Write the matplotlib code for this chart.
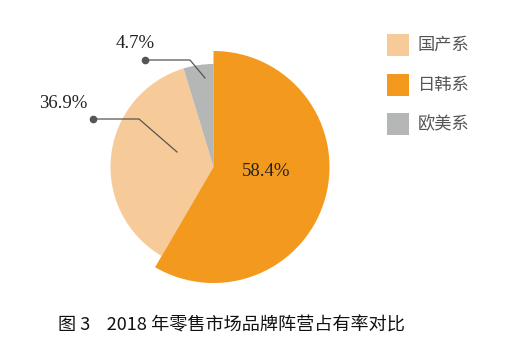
import matplotlib
matplotlib.use("Agg")
import matplotlib.pyplot as plt
from matplotlib.patches import Rectangle

# Data
categories = ["国产系", "日韩系", "欧美系"]
shares = [36.9, 58.4, 4.7]
colors = {"国产系": "#F7CA9A", "日韩系": "#F39A1E", "欧美系": "#B5B6B6"}
pct_labels = ["36.9%", "58.4%", "4.7%"]
caption = "图 3    2018 年零售市场品牌阵营占有率对比"

W, H = 507, 356
fig = plt.figure(figsize=(W / 100, H / 100), dpi=100)
ax = fig.add_axes([0, 0, 1, 1])
ax.set_xlim(0, W)
ax.set_ylim(0, H)
ax.set_aspect("equal")
ax.axis("off")

def Y(y):
    return H - y

# pie order clockwise from top: 日韩系, 国产系, 欧美系
order = [1, 0, 2]
vals = [shares[i] for i in order]
cols = [colors[categories[i]] for i in order]
center = (213.5, Y(167))
big_r, small_r = 116, 103

w_small, _ = ax.pie(vals, colors=cols, startangle=90, counterclock=False,
                    radius=small_r, center=center, frame=True,
                    wedgeprops=dict(linewidth=0))
w_small[0].set_visible(False)
w_big, _ = ax.pie(vals, colors=cols, startangle=90, counterclock=False,
                  radius=big_r, center=center, frame=True,
                  wedgeprops=dict(linewidth=0))
w_big[1].set_visible(False)
w_big[2].set_visible(False)
ax.set_xlim(0, W)
ax.set_ylim(0, H)
ax.axis("off")

serif = "Liberation Serif"
ax.text(266, Y(171), pct_labels[1], fontsize=13.5, family=serif,
        ha="center", va="center", color="#222222")

# leader lines
lc = "#555555"
ax.plot([93, 139, 177], [Y(119), Y(119), Y(152)], color=lc, lw=0.9)
ax.plot([93], [Y(119)], "o", color=lc, ms=4.5)
ax.text(63, Y(103), pct_labels[0], fontsize=13.5, family=serif,
        ha="center", va="center", color="#222222")
ax.plot([145, 190, 205], [Y(60), Y(60), Y(78)], color=lc, lw=0.9)
ax.plot([145], [Y(60)], "o", color=lc, ms=4.5)
ax.text(135, Y(44), pct_labels[2], fontsize=13.5, family=serif,
        ha="center", va="center", color="#222222")

# legend
cjk = ["Noto Sans CJK SC", "DejaVu Sans"]
for k, cat in enumerate(categories):
    yc = 45 + k * 39.5
    ax.add_patch(Rectangle((387, Y(yc + 11)), 22, 22, color=colors[cat], lw=0))
    ax.text(418, Y(yc), cat, fontsize=12.4, family=cjk, ha="left", va="center",
            color="#555555")

ax.text(58, Y(325), caption, fontsize=13.1, family=cjk, ha="left",
        va="center", color="#111111")

fig.savefig("out.png", dpi=100)
